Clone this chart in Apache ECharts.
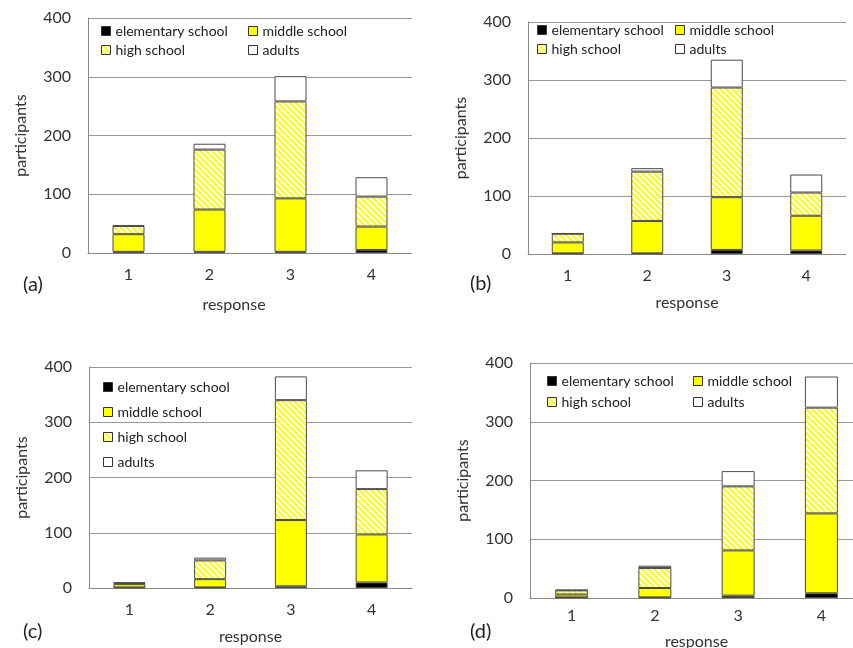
<!DOCTYPE html>
<html>
<head>
<meta charset="utf-8">
<script src="https://cdn.jsdelivr.net/npm/echarts@6/dist/echarts.min.js"></script>
<style>
html,body{margin:0;padding:0;background:#fff;}
#chart{width:853px;height:648px;}
</style>
</head>
<body>
<div id="chart"></div>
<script>
// ---- data ----
const categories = ['1', '2', '3', '4'];
const groupNames = ['elementary school', 'middle school', 'high school', 'adults'];
const yTicks = [0, 100, 200, 300, 400];
const panelLabels = ['(a)', '(b)', '(c)', '(d)'];

const elemA  = [2, 2, 2, 5];
const midA   = [30, 72, 91, 40];
const highA  = [14, 102, 165, 51];
const adultA = [1, 10, 43, 33];

const elemB  = [1, 1, 7, 6];
const midB   = [19, 56, 91, 60];
const highB  = [15, 85, 189, 40];
const adultB = [0, 6, 48, 31];

const elemC  = [1, 1, 3, 10];
const midC   = [6, 15, 120, 87];
const highC  = [2, 34, 217, 82];
const adultC = [1, 5, 43, 34];

const elemD  = [1, 1, 4, 8];
const midD   = [5, 16, 77, 136];
const highD  = [7, 34, 109, 180];
const adultD = [1, 4, 26, 53];

const panels = [
  [elemA, midA, highA, adultA],
  [elemB, midB, highB, adultB],
  [elemC, midC, highC, adultC],
  [elemD, midD, highD, adultD]
];

// ---- styling ----
const FONT = 'Lato';
function makeHatch() {
  const s = 6;
  const c = document.createElement('canvas');
  c.width = s; c.height = s;
  const ctx = c.getContext('2d');
  const img = ctx.createImageData(s, s);
  for (let y = 0; y < s; y++) {
    for (let x = 0; x < s; x++) {
      const k = (((x - y) % s) + s) % s;
      const yellow = k < 3;
      const i = (y * s + x) * 4;
      img.data[i] = 255;
      img.data[i + 1] = 255;
      img.data[i + 2] = yellow ? 20 : 255;
      img.data[i + 3] = 255;
    }
  }
  ctx.putImageData(img, 0, 0);
  return c;
}
const hatch = { image: makeHatch(), repeat: 'repeat' };
const fills = ['#000000', '#ffff00', hatch, '#ffffff'];

const grids = [
  { left: 88, top: 18, width: 324, height: 235, outerBoundsMode: 'none', containLabel: false },
  { left: 528, top: 22, width: 318, height: 232, outerBoundsMode: 'none', containLabel: false },
  { left: 89, top: 367, width: 323, height: 221, outerBoundsMode: 'none', containLabel: false },
  { left: 530, top: 363, width: 333, height: 235, outerBoundsMode: 'none', containLabel: false }
];
const xLabelMargin = [14, 14, 14, 10];
const xNameGap = [44, 41, 41, 36];
const barWidths = [32, 32, 32, 33];

const xAxes = grids.map((g, i) => ({
  type: 'category', gridIndex: i, data: categories,
  axisLine: { show: true, lineStyle: { color: '#888', width: 1 } },
  axisTick: { show: false },
  axisLabel: { fontFamily: FONT, fontSize: 16, color: '#333', margin: xLabelMargin[i] },
  name: 'response', nameLocation: 'middle', nameGap: xNameGap[i],
  nameTextStyle: { fontFamily: FONT, fontSize: 16, color: '#333', padding: i === 0 ? [0, 32, 0, 0] : 0 }
}));
const yAxes = grids.map((g, i) => ({
  type: 'value', gridIndex: i, min: yTicks[0], max: yTicks[yTicks.length - 1], interval: yTicks[1] - yTicks[0],
  axisLine: { show: true, lineStyle: { color: '#888', width: 1 } },
  axisTick: { show: false },
  splitLine: { show: true, lineStyle: { color: '#999', width: 1 } },
  axisLabel: { fontFamily: FONT, fontSize: 16, color: '#333', margin: 17 },
  name: 'participants', nameLocation: 'middle', nameGap: 59,
  nameTextStyle: { fontFamily: FONT, fontSize: 16, color: '#333' }
}));

const series = [];
panels.forEach((arrs, p) => {
  arrs.forEach((vals, k) => {
    series.push({
      name: groupNames[k], type: 'bar', stack: 'p' + p,
      xAxisIndex: p, yAxisIndex: p, barWidth: barWidths[p],
      data: vals,
      itemStyle: { color: fills[k], borderColor: '#4a4a4a', borderWidth: 1, borderRadius: 0 },
      emphasis: { disabled: true },
      animation: false
    });
  });
});

const legendBase = {
  orient: 'vertical', itemWidth: 9, itemHeight: 9, selectedMode: false, icon: 'rect',
  itemStyle: { borderColor: '#333', borderWidth: 1 },
  textStyle: { fontFamily: FONT, fontSize: 14, color: '#222' },
  padding: 0
};
const legends = [
  Object.assign({}, legendBase, { left: 101, top: 24, itemGap: 5, data: ['elementary school', 'high school'] }),
  Object.assign({}, legendBase, { left: 248, top: 24, itemGap: 5, data: ['middle school', 'adults'] }),
  Object.assign({}, legendBase, { left: 537, top: 23, itemGap: 5, data: ['elementary school', 'high school'] }),
  Object.assign({}, legendBase, { left: 675, top: 23, itemGap: 5, data: ['middle school', 'adults'] }),
  Object.assign({}, legendBase, { left: 103, top: 380, itemGap: 11, data: groupNames }),
  Object.assign({}, legendBase, { left: 547, top: 374, itemGap: 7, data: ['elementary school', 'high school'] }),
  Object.assign({}, legendBase, { left: 693, top: 374, itemGap: 7, data: ['middle school', 'adults'] })
];

const labelPos = [[23, 286], [470, 285], [23, 633], [470, 633]];
const graphics = panelLabels.map((t, i) => ({
  type: 'text', left: labelPos[i][0], top: labelPos[i][1] - 11,
  style: { text: t, font: '20px ' + FONT, fill: '#222' }
}));

const chart = echarts.init(document.getElementById('chart'), null, { renderer: 'canvas' });
chart.setOption({
  animation: false,
  backgroundColor: '#fff',
  grid: grids,
  xAxis: xAxes,
  yAxis: yAxes,
  legend: legends,
  series: series,
  graphic: graphics
});
</script>
</body>
</html>
